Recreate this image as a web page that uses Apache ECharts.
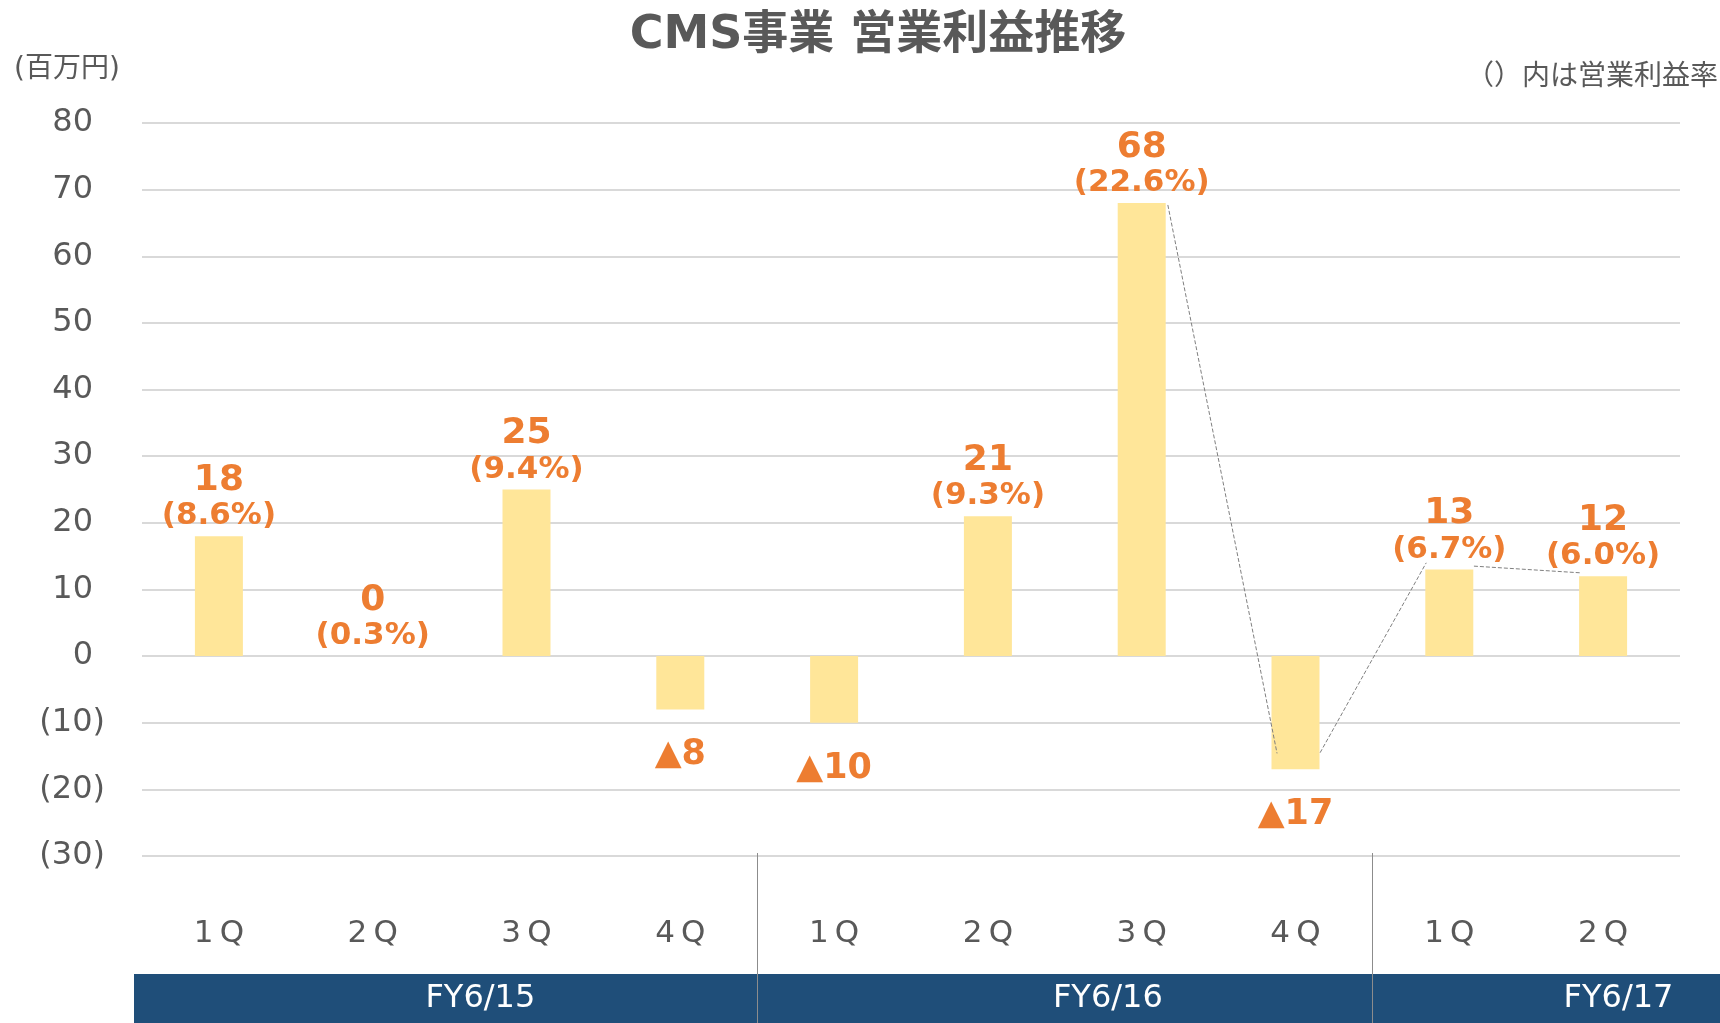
<!DOCTYPE html>
<html>
<head>
<meta charset="utf-8">
<title>CMS事業 営業利益推移</title>
<script src="https://cdn.jsdelivr.net/npm/echarts@6/dist/echarts.min.js"></script>
<style>
    html, body { margin: 0; padding: 0; background: #fff; }
    #main { width: 1720px; height: 1023px; }
</style>
</head>
<body>
<div id="main"></div>
<script>
"use strict";
// data
var quarters = ["1Q", "2Q", "3Q", "4Q", "1Q", "2Q", "3Q", "4Q", "1Q", "2Q"];
var profit = [18, 0, 25, -8, -10, 21, 68, -17, 13, 12];
var profitRate = ["8.6%", "0.3%", "9.4%", null, null, "9.3%", "22.6%", null, "6.7%", "6.0%"];
var fiscalYears = ["FY6/15", "FY6/16", "FY6/17"];
var quartersPerYear = [4, 4, 2];
// dashed connectors, [category position, value]
var connector1 = [[6.67, 67.7], [7.38, -14.6]];
var connector2 = [[7.66, -14.5], [8.35, 14.0]];
var connector3 = [[8.66, 13.5], [9.35, 12.5]];

var FONT = "'DejaVu Sans', 'Noto Sans CJK JP', sans-serif";
var GREY = "#595959";
var ORANGE = "#ED7D31";

var chart = echarts.init(document.getElementById("main"));

function barData() {
    var list = [];
    profit.forEach(function(v, i) {
        var item = { value: v };
        if (v < 0) {
            item.label = {
                position: "bottom",
                distance: 26,
                formatter: "\u25B2" + (-v),
                fontSize: 35,
                lineHeight: 40
            };
        } else {
            item.label = {
                position: "top",
                distance: 3,
                formatter: "{n|" + v + "}\n{p|(" + profitRate[i] + ")}"
            };
        }
        list.push(item);
    });
    return list;
}

function connectorSeries(pts) {
    return {
        type: "line",
        xAxisIndex: 1,
        data: pts,
        symbol: "none",
        silent: true,
        lineStyle: { color: "#7f7f7f", width: 1, type: [4, 2] },
        z: 5
    };
}

var option = {
    animation: false,
    grid: { left: 142, right: 40, top: 123, bottom: 167, containLabel: false },
    xAxis: [{
        type: "category",
        data: quarters,
        axisLine: { show: false },
        axisTick: { show: false },
        axisLabel: {
            margin: 62,
            fontSize: 31,
            color: GREY,
            fontFamily: FONT,
            formatter: function(v) { return v.split("").join("\u2009"); }
        }
    }, {
        type: "value",
        min: 0,
        max: quarters.length,
        show: false
    }],
    yAxis: {
        type: "value",
        min: -30,
        max: 80,
        interval: 10,
        axisLine: { show: false },
        axisTick: { show: false },
        splitLine: { lineStyle: { color: "#D9D9D9", width: 2 } },
        axisLabel: {
            margin: 37,
            fontSize: 32,
            color: GREY,
            fontFamily: FONT,
            formatter: function(v) {
                return v < 0 ? "(" + (-v) + ")" : "{p|" + v + "}";
            },
            rich: {
                p: { fontSize: 32, color: GREY, fontFamily: FONT, padding: [0, 12, 0, 0] }
            }
        }
    },
    series: [{
        type: "bar",
        data: barData(),
        barWidth: 48,
        itemStyle: { color: "#FFE699" },
        label: {
            show: true,
            color: ORANGE,
            fontWeight: "bold",
            fontFamily: FONT,
            rich: {
                n: { fontSize: 36, fontWeight: "bold", color: ORANGE, fontFamily: FONT, lineHeight: 37 },
                p: { fontSize: 31, fontWeight: "bold", color: ORANGE, fontFamily: FONT, lineHeight: 34 }
            }
        },
        z: 2
    },
        connectorSeries(connector1),
        connectorSeries(connector2),
        connectorSeries(connector3)
    ]
};
chart.setOption(option);

// title, notes and fiscal year band
function drawExtras() {
    var px = function(x) { return chart.convertToPixel({ xAxisIndex: 1 }, x); };
    var gridBottom = chart.convertToPixel({ yAxisIndex: 0 }, -30);
    var bandTop = 974, bandH = 1023 - bandTop;
    var g = [];
    g.push({
        type: "text", x: 878, y: 36,
        style: { text: "CMS事業 営業利益推移", font: "bold 46px " + FONT, fill: GREY,
            textAlign: "center", textVerticalAlign: "middle" }
    });
    g.push({
        type: "text", x: 14, y: 70,
        style: { text: "(百万円)", font: "28px " + FONT, fill: GREY, textVerticalAlign: "middle" }
    });
    g.push({
        type: "text", x: 1718, y: 74,
        style: { text: "（）内は営業利益率", font: "28px 'Noto Sans CJK JP', sans-serif", fill: GREY,
            textAlign: "right", textVerticalAlign: "middle" }
    });
    g.push({
        type: "rect", shape: { x: px(0) - 8, y: bandTop, width: 1720 - px(0) + 8, height: bandH },
        style: { fill: "#1F4E79" }
    });
    // year label positions (category units) as in the source slide
    var labelPos = [2.2, 6.28, 9.6];
    var start = 0;
    fiscalYears.forEach(function(fy, i) {
        g.push({
            type: "text", x: px(labelPos[i]), y: bandTop + bandH / 2,
            style: { text: fy, font: "32px " + FONT, fill: "#fff",
                textAlign: "center", textVerticalAlign: "middle" },
            z: 10
        });
        start += quartersPerYear[i];
        if (i < fiscalYears.length - 1) {
            g.push({
                type: "line",
                shape: { x1: Math.round(px(start)) + 0.5, y1: gridBottom - 3, x2: Math.round(px(start)) + 0.5, y2: 1023 },
                style: { stroke: "#8c8c8c", lineWidth: 1 },
                z: 10
            });
        }
    });
    chart.setOption({ graphic: g });
}
drawExtras();
</script>
</body>
</html>
